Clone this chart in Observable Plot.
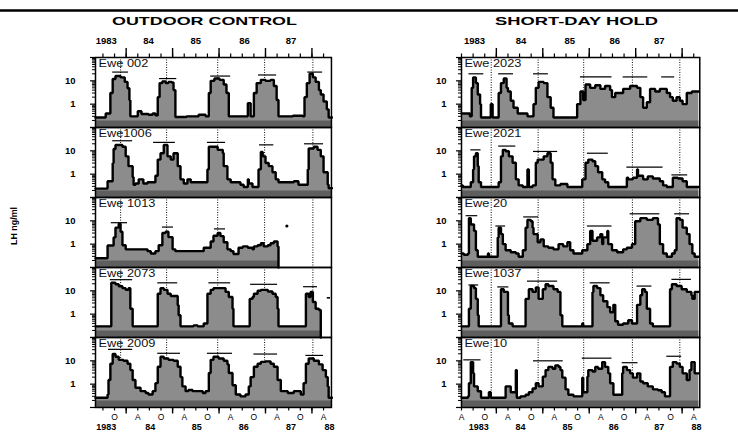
<!DOCTYPE html>
<html><head><meta charset="utf-8">
<script src="https://cdn.jsdelivr.net/npm/d3@7"></script>
<script src="https://cdn.jsdelivr.net/npm/@observablehq/plot@0.6"></script>
<style>
html,body{margin:0;padding:0;background:#fff;}
#wrap{position:relative;width:738px;height:436px;overflow:hidden;background:#fff;font-family:"Liberation Sans",Arial,sans-serif;}
#wrap svg{position:absolute;}
</style></head><body><div id="wrap"></div>
<script>
// ---------- categories ----------
const leftEwes = ["Ewe 002", "Ewe1006", "Ewe 1013", "Ewe 2073", "Ewe 2009"];
const rightEwes = ["Ewe 2023", "Ewe 2021", "Ewe 20", "Ewe 1037", "Ewe 10"];

// ---------- LH series: [decimal year, LH ng/ml] ----------
const lh002 = [[1983.34,0.27],[1983.56,0.4],[1983.66,3],[1983.71,12],[1983.77,16],[1983.88,14],[1983.97,9],[1984.03,4.8],[1984.07,1.5],[1984.09,0.3],[1984.25,0.5],[1984.33,0.38],[1984.48,0.35],[1984.57,0.4],[1984.63,0.33],[1984.68,2],[1984.72,8],[1984.78,9.5],[1984.85,8],[1984.91,9],[1984.98,8.5],[1985.02,4],[1985.06,0.28],[1985.30,0.3],[1985.56,0.35],[1985.71,0.3],[1985.78,3],[1985.82,10],[1985.90,12.5],[1986.01,11],[1986.10,7],[1986.16,3],[1986.21,0.3],[1986.62,1.1],[1986.68,0.3],[1986.75,3],[1986.81,8],[1986.90,11],[1987.00,10],[1987.11,11],[1987.18,6],[1987.24,1.5],[1987.28,0.3],[1987.59,0.32],[1987.80,0.3],[1987.84,2],[1987.89,8],[1987.95,20],[1988.02,14],[1988.08,9],[1988.15,4],[1988.19,2.6],[1988.25,1.3],[1988.32,0.6],[1988.36,0.27],[1988.43,0.27]];
const lh1006 = [[1983.34,0.24],[1983.60,0.5],[1983.71,3],[1983.73,12],[1983.77,17.8],[1983.92,15],[1983.99,5.8],[1984.05,2.2],[1984.14,0.74],[1984.16,0.35],[1984.20,0.4],[1984.27,0.6],[1984.37,0.4],[1984.46,0.45],[1984.63,0.85],[1984.68,4.2],[1984.74,7.9],[1984.81,17.8],[1984.89,5.8],[1984.96,4.2],[1985.02,7.9],[1985.11,2.2],[1985.17,0.6],[1985.24,0.4],[1985.32,0.6],[1985.39,0.45],[1985.75,1.6],[1985.78,15],[1985.97,11],[1986.08,8],[1986.10,2.2],[1986.18,0.6],[1986.25,0.45],[1986.46,0.35],[1986.53,0.28],[1986.62,0.6],[1986.64,0.4],[1986.72,0.28],[1986.85,1.6],[1986.90,9],[1986.94,5.8],[1987.00,3],[1987.07,2.2],[1987.15,1.2],[1987.22,0.6],[1987.28,0.45],[1987.61,0.5],[1987.71,0.35],[1987.91,1.6],[1987.93,12.6],[1988.04,15],[1988.12,11],[1988.19,5.8],[1988.25,1.2],[1988.34,0.35],[1988.36,0.25],[1988.43,0.25]];
const lh1013 = [[1983.34,0.25],[1983.60,0.88],[1983.73,1.95],[1983.77,5.1],[1983.84,7.5],[1983.88,3.4],[1983.92,0.9],[1983.99,0.6],[1984.46,0.5],[1984.53,0.4],[1984.63,0.5],[1984.70,0.9],[1984.78,3],[1984.85,3.4],[1984.91,2],[1985.00,0.6],[1985.06,0.5],[1985.67,0.7],[1985.82,1.3],[1985.88,2.3],[1985.97,3],[1986.03,2.2],[1986.10,1.2],[1986.18,0.6],[1986.25,0.5],[1986.31,0.38],[1986.42,0.7],[1986.51,0.8],[1986.62,0.7],[1986.72,0.6],[1986.75,0.8],[1986.83,0.9],[1986.90,1.1],[1986.96,0.8],[1987.05,0.9],[1987.11,1.1],[1987.18,1.3],[1987.26,0.8],[1987.28,0.1]];
const lh2073 = [[1983.34,0.3],[1983.68,22],[1983.77,19],[1983.84,15.6],[1983.92,13],[1983.99,11],[1984.05,13],[1984.09,1.7],[1984.14,0.3],[1984.68,7.5],[1984.74,13],[1984.81,11],[1984.89,7.5],[1984.96,6],[1985.11,2.4],[1985.13,0.9],[1985.17,0.3],[1985.45,0.33],[1985.54,0.3],[1985.67,0.4],[1985.75,7.5],[1985.82,11],[1985.88,13],[1986.14,9],[1986.21,5.4],[1986.29,1.7],[1986.31,0.3],[1986.66,4.5],[1986.72,5.4],[1986.75,7.5],[1986.83,10],[1986.90,11],[1987.05,9.4],[1987.15,7.5],[1987.22,5.4],[1987.26,1.7],[1987.28,0.3],[1987.87,7.5],[1987.93,5.4],[1987.97,9],[1988.02,3.3],[1988.08,1.7],[1988.15,1.5],[1988.19,0.1]];
const lh2009 = [[1983.34,0.26],[1983.60,0.36],[1983.62,1.5],[1983.66,7.5],[1983.71,19.5],[1983.77,15],[1983.84,11],[1983.94,10],[1984.03,7.5],[1984.09,4],[1984.14,1.5],[1984.20,0.7],[1984.31,0.5],[1984.42,0.42],[1984.48,0.36],[1984.57,0.5],[1984.63,1.1],[1984.68,5.6],[1984.74,15],[1984.81,12.5],[1984.91,11],[1985.02,10],[1985.11,5.6],[1985.17,2],[1985.21,0.8],[1985.28,0.5],[1985.34,0.56],[1985.43,0.5],[1985.65,0.42],[1985.71,0.5],[1985.78,3],[1985.82,11],[1985.88,15],[1985.99,12.5],[1986.10,10],[1986.18,7],[1986.21,3],[1986.29,0.9],[1986.36,0.36],[1986.46,0.3],[1986.57,0.36],[1986.64,0.8],[1986.68,2],[1986.75,5.6],[1986.83,7.5],[1986.90,9],[1987.00,9.5],[1987.11,7.5],[1987.18,5.6],[1987.26,1.5],[1987.33,0.5],[1987.48,0.42],[1987.61,0.5],[1987.76,0.36],[1987.82,1.1],[1987.87,7.5],[1987.93,12.5],[1988.04,10],[1988.15,7],[1988.23,4],[1988.30,2],[1988.34,0.8],[1988.36,0.26],[1988.43,0.26]];

const lh2023 = [[1983.25,0.4],[1983.43,0.3],[1983.47,5],[1983.50,14],[1983.56,8],[1983.60,2.6],[1983.65,1],[1983.67,0.27],[1983.88,1.0],[1983.92,0.27],[1984.05,3],[1984.10,8],[1984.16,12.5],[1984.22,5],[1984.25,3.5],[1984.31,1.4],[1984.37,0.7],[1984.46,0.4],[1984.67,0.3],[1984.80,1],[1984.85,5],[1984.91,9],[1985.02,8],[1985.10,2],[1985.17,0.7],[1985.23,0.27],[1985.74,1],[1985.81,3.5],[1985.87,1.5],[1985.92,7],[1986.02,5],[1986.13,6.5],[1986.24,4.5],[1986.34,6],[1986.45,4],[1986.49,2],[1986.56,3],[1986.73,4.5],[1986.88,6],[1987.03,5],[1987.10,2],[1987.16,0.7],[1987.24,1.2],[1987.31,4.5],[1987.42,3.5],[1987.52,4.5],[1987.67,3],[1987.74,2],[1987.80,1.4],[1987.88,2],[1987.95,1.4],[1988.01,1.0],[1988.10,3],[1988.21,3.5],[1988.36,3.5]];
const lh2021 = [[1983.25,0.33],[1983.28,0.28],[1983.45,0.45],[1983.50,1.6],[1983.52,5.8],[1983.56,7.9],[1983.60,2.2],[1983.62,0.45],[1983.67,0.28],[1984.05,0.45],[1984.10,5.8],[1984.14,11],[1984.20,9.6],[1984.27,5.8],[1984.35,3.1],[1984.42,0.6],[1984.48,0.33],[1984.57,0.28],[1984.67,1.6],[1984.70,0.28],[1984.78,0.33],[1984.85,3.1],[1984.89,4.2],[1985.02,5.8],[1985.10,7.9],[1985.17,3.1],[1985.21,0.6],[1985.27,0.33],[1985.38,0.38],[1985.53,0.28],[1985.85,0.6],[1985.92,3.1],[1985.98,4.2],[1986.07,3.6],[1986.13,2.2],[1986.19,1.2],[1986.28,0.6],[1986.34,0.45],[1986.41,0.28],[1986.81,0.7],[1986.84,0.6],[1986.94,0.7],[1987.03,1.6],[1987.05,0.85],[1987.16,0.6],[1987.26,0.8],[1987.37,0.65],[1987.52,0.5],[1987.59,0.33],[1987.67,0.28],[1987.80,0.7],[1987.91,0.65],[1988.01,0.5],[1988.10,0.28],[1988.36,0.28]];
const lh20 = [[1983.25,0.4],[1983.30,0.35],[1983.39,0.4],[1983.41,13],[1983.45,7],[1983.52,3.7],[1983.56,0.55],[1983.60,0.29],[1983.82,0.4],[1983.84,0.29],[1984.03,1.95],[1984.05,5.1],[1984.10,2.7],[1984.14,1.0],[1984.20,0.55],[1984.31,0.45],[1984.42,0.4],[1984.48,0.29],[1984.57,0.55],[1984.63,5.1],[1984.67,11],[1984.74,9.6],[1984.78,5.1],[1984.80,2.7],[1984.89,1.2],[1984.95,1.6],[1985.02,0.8],[1985.12,0.7],[1985.23,0.6],[1985.34,1.0],[1985.44,0.8],[1985.53,1.2],[1985.59,0.55],[1985.66,0.4],[1985.85,0.55],[1985.96,1.0],[1986.02,3.7],[1986.07,1.4],[1986.17,1.95],[1986.24,2.7],[1986.28,1.0],[1986.30,1.95],[1986.39,3.7],[1986.41,1.0],[1986.49,0.55],[1986.60,0.45],[1986.73,0.6],[1986.81,0.7],[1986.92,1.0],[1986.99,9.6],[1987.10,13],[1987.24,11],[1987.37,13],[1987.48,7],[1987.52,1.0],[1987.59,0.4],[1987.67,0.29],[1987.78,0.4],[1987.84,0.55],[1987.88,13],[1987.95,11],[1988.01,5.1],[1988.10,2.7],[1988.16,1.0],[1988.22,0.4],[1988.27,0.29],[1988.36,0.29]];
const lh1037 = [[1983.25,0.3],[1983.41,1.7],[1983.45,16],[1983.52,13],[1983.56,4.5],[1983.60,0.9],[1983.62,0.3],[1984.10,11.7],[1984.16,9],[1984.25,0.9],[1984.27,0.4],[1984.35,0.3],[1984.63,4.5],[1984.70,11.7],[1984.78,9],[1984.85,14],[1984.91,4.5],[1985.00,11.7],[1985.06,19],[1985.12,16],[1985.23,11.7],[1985.32,9],[1985.38,0.9],[1985.42,0.3],[1985.85,0.4],[1985.87,0.3],[1986.07,9],[1986.09,16],[1986.17,13],[1986.24,6.5],[1986.30,3.6],[1986.39,2],[1986.45,1.2],[1986.52,2.5],[1986.56,0.5],[1986.62,0.35],[1986.73,0.4],[1986.84,0.55],[1986.92,0.4],[1987.03,2.5],[1987.10,6.5],[1987.14,11.7],[1987.20,9],[1987.24,1.7],[1987.31,0.4],[1987.37,0.3],[1987.74,11.7],[1987.78,19],[1987.88,16],[1987.99,11.7],[1988.10,9],[1988.20,6.5],[1988.22,4.5],[1988.27,9],[1988.36,9]];
const lh10 = [[1983.25,0.26],[1983.39,0.3],[1983.41,1.1],[1983.45,8.8],[1983.50,2.9],[1983.52,0.8],[1983.60,0.5],[1983.67,0.26],[1983.84,0.45],[1983.88,0.26],[1984.20,0.8],[1984.31,0.45],[1984.42,4],[1984.44,0.26],[1984.52,0.3],[1984.63,0.35],[1984.70,0.45],[1984.78,0.65],[1984.85,1.1],[1984.91,0.8],[1985.00,2.1],[1985.06,4],[1985.12,5.5],[1985.21,4.6],[1985.27,6.4],[1985.34,5.5],[1985.38,4],[1985.42,1.9],[1985.49,0.6],[1985.55,0.35],[1985.66,0.3],[1985.85,1.9],[1985.87,0.45],[1985.96,2.1],[1985.98,4],[1986.07,3.5],[1986.13,5.5],[1986.19,4.6],[1986.28,8.8],[1986.34,5.5],[1986.41,2.9],[1986.45,1.1],[1986.52,0.35],[1986.71,2.9],[1986.73,5.5],[1986.81,4],[1986.88,2.9],[1986.94,1.9],[1987.03,2.9],[1987.10,1.3],[1987.16,1.1],[1987.26,0.8],[1987.37,0.6],[1987.48,0.55],[1987.56,0.45],[1987.63,0.3],[1987.74,5.5],[1987.80,8.8],[1987.88,7.6],[1987.95,5.5],[1988.01,2.9],[1988.10,1.5],[1988.16,4],[1988.20,8.8],[1988.27,2.9],[1988.36,2.9]];

// ---------- horizontal bars above each season: [start, end, level] ----------
const bars002 = [[1983.71,1984.05,23.7],[1984.72,1985.09,12.5],[1985.82,1986.25,16],[1986.85,1987.24,17.8],[1987.91,1988.23,23.7]];
const bars1006 = [[1983.71,1984.14,27],[1984.59,1985.06,23],[1985.75,1986.14,23],[1986.87,1987.18,18],[1987.84,1988.25,20]];
const bars1013 = [[1983.68,1984.03,8.3],[1984.78,1985.02,5.4],[1985.90,1986.14,4.5]];
const bars2073 = [[1983.66,1984.14,30],[1984.68,1985.11,22],[1985.78,1986.25,22],[1986.68,1987.26,19],[1987.82,1988.12,15]];
const bars2009 = [[1983.62,1984.14,31],[1984.68,1985.17,21],[1985.75,1986.29,21],[1986.75,1987.26,19.5],[1987.87,1988.25,17]];
const bars2023 = [[1983.41,1983.73,20],[1984.05,1984.37,20],[1984.80,1985.12,20],[1985.81,1986.49,14.7],[1986.73,1987.26,14.7],[1987.56,1987.84,14.7]];
const bars2021 = [[1983.45,1983.67,11],[1984.05,1984.42,16],[1984.80,1985.32,9.4],[1985.96,1986.41,7.9],[1986.81,1987.59,2],[1987.78,1988.12,0.93]];
const bars20 = [[1983.35,1983.60,16.6],[1983.99,1984.20,6],[1984.59,1984.91,14.7],[1985.96,1986.49,6],[1986.88,1987.52,20],[1987.84,1988.16,20]];
const bars1037 = [[1983.41,1983.62,17.8],[1984.03,1984.27,14.7],[1984.67,1985.32,26],[1986.02,1986.45,22],[1987.03,1987.35,16],[1987.78,1988.20,31]];
const bars10 = [[1983.30,1983.67,11],[1984.80,1985.44,10],[1985.85,1986.49,13],[1986.71,1987.05,8.3],[1987.67,1987.99,15.7]];

// isolated points after series end
const dots1013 = [[1987.46, 6]];
const dash2073 = [[1988.33, 1988.40, 5]];

// ---------- dotted reference dates (around winter solstice) ----------
const leftSolstices = [1983.88, 1984.87, 1985.97, 1986.98, 1988.02];
const rightSolstices = [1983.89, 1984.90, 1985.88, 1986.93, 1987.95];

// ---------- tick values ----------
const yearTicks = [1984, 1985, 1986, 1987, 1988];
const quarterTicks = [1983.25,1983.5,1983.75,1984,1984.25,1984.5,1984.75,1985,1985.25,1985.5,1985.75,1986,1986.25,1986.5,1986.75,1987,1987.25,1987.5,1987.75,1988,1988.25];
const octAprLeft = [1983.75,1984.25,1984.75,1985.25,1985.75,1986.25,1986.75,1987.25,1987.75,1988.25];
const octAprRight = [1983.25,1983.75,1984.25,1984.75,1985.25,1985.75,1986.25,1986.75,1987.25,1987.75,1988.25];
const topYearsLeft = [1983.57, 1984.48, 1985.5, 1986.55, 1987.55];
const topYearsRight = [1983.53, 1984.53, 1985.58, 1986.55, 1987.51];
const bottomYearsLeft = [1983.57, 1984.52, 1985.52, 1986.53, 1987.55, 1988.38];
const bottomYearsRight = [1983.62, 1984.52, 1985.53, 1986.53, 1987.51, 1988.31];
const yMajor = [0.1, 1, 10, 100];
const yMinor = [0.2,0.3,0.4,0.5,0.6,0.7,0.8,0.9,2,3,4,5,6,7,8,9,20,30,40,50,60,70,80,90];
const yLabeled = [1, 10];

const yearFmt = d => Math.floor(d) === 1983 ? "1983" : String(Math.floor(d)).slice(2);
const monthFmt = d => Math.abs((d % 1) - 0.75) < 0.01 ? "O" : "A";

const PANEL_H = 70.6, TOP = 55, MT = 32, MB = 28, ML = 45, MR = 8;

function column(ewes, series, bars, solstices, xDomain, monthTicks, topYears, bottomYears, yPad, extras) {
  const rows = ewes.flatMap((e, i) => series[i].map(([t, v]) => ({ewe: e, t, v})));
  const barRows = ewes.flatMap((e, i) => bars[i].map(([t1, t2, v]) => ({ewe: e, t1, t2, v})));
  const inDom = t => t >= xDomain[0] - 1e-6 && t <= xDomain[1] + 1e-6;
  const plotW = (xDomain[1] - xDomain[0]) * 46.45;
  return Plot.plot({
    width: ML + plotW + MR,
    height: MT + MB + PANEL_H * ewes.length,
    marginLeft: ML, marginRight: MR, marginTop: MT, marginBottom: MB,
    style: {fontFamily: '"Liberation Sans", Arial, sans-serif', color: "black", background: "transparent", overflow: "visible"},
    x: {domain: xDomain},
    y: {type: "log", domain: [0.1, 100]},
    fy: {domain: ewes, padding: 0, axis: null, label: null},
    marks: [
      Plot.ruleX(solstices, {stroke: "#222", strokeWidth: 1.1, strokeDasharray: "1,1.5"}),
      Plot.areaY(rows, {x: "t", y1: 0.1, y2: "v", fy: "ewe", curve: "step-after", fill: "#8c8c8c"}),
      Plot.areaY(rows, {x: "t", y1: 0.1, y2: d => Math.min(d.v, 0.19), fy: "ewe", curve: "step-after", fill: "#5e5e5e"}),
      Plot.lineY(rows, {x: "t", y: "v", fy: "ewe", curve: "step-after", stroke: "black", strokeWidth: 2.4, strokeLinejoin: "miter"}),
      Plot.ruleY(barRows, {y: "v", x1: "t1", x2: "t2", fy: "ewe", stroke: "black", strokeWidth: 1.2}),
      ...extras,
      Plot.text(ewes, {fy: d => d, text: d => d, frameAnchor: "top-left", dx: 3, dy: 2.5, fontSize: 10, fill: "#111"}),
      Plot.frame({stroke: "black", strokeWidth: 1.5}),
      // y axis
      Plot.axisY(yMinor, {tickSize: 3, tickFormat: () => "", label: null, strokeWidth: 1}),
      Plot.axisY(yMajor, {tickSize: 5, tickFormat: () => "", label: null, strokeWidth: 1.2}),
      Plot.axisY(yLabeled, {tickSize: 0, tickPadding: yPad, tickFormat: d => String(d), fontWeight: "bold", fontSize: 9.5, label: null}),
      // top axis
      Plot.axisX(quarterTicks.filter(inDom), {anchor: "top", tickSize: 4.5, tickFormat: () => "", label: null, strokeWidth: 1.2}),
      Plot.axisX(yearTicks.filter(inDom), {anchor: "top", tickSize: 10, tickFormat: () => "", label: null, strokeWidth: 1.4}),
      Plot.axisX(topYears, {anchor: "top", tickSize: 0, tickPadding: 13.5, tickFormat: yearFmt, fontWeight: "bold", fontSize: 9.5, label: null}),
      // bottom axis
      Plot.axisX(quarterTicks.filter(inDom), {anchor: "bottom", tickSize: 3.5, tickFormat: () => "", label: null, strokeWidth: 1.2}),
      Plot.axisX(yearTicks.filter(inDom), {anchor: "bottom", tickSize: 6.5, tickFormat: () => "", label: null, strokeWidth: 1.4}),
      Plot.axisX(monthTicks.filter(inDom), {anchor: "bottom", tickSize: 0, tickPadding: 6.5, tickFormat: monthFmt, fontSize: 8.5, label: null}),
      Plot.axisX(bottomYears, {anchor: "bottom", tickSize: 0, tickPadding: 16, tickFormat: yearFmt, fontWeight: "bold", fontSize: 9, label: null})
    ]
  });
}

// widen the panel labels like the scanned lettering
function widenLabels(svg) {
  d3.select(svg).selectAll('g[aria-label="text"] text').each(function () {
    const w = this.getComputedTextLength();
    if (w > 0) d3.select(this).attr("textLength", w * 1.28).attr("lengthAdjust", "spacingAndGlyphs");
  });
}

const wrap = document.getElementById("wrap");

const leftExtras = [
  Plot.dot(dots1013.map(([t, v]) => ({ewe: "Ewe 1013", t, v})), {x: "t", y: "v", fy: "ewe", r: 1.6, fill: "black", stroke: "none"}),
  Plot.ruleY(dash2073.map(([t1, t2, v]) => ({ewe: "Ewe 2073", t1, t2, v})), {y: "v", x1: "t1", x2: "t2", fy: "ewe", stroke: "black", strokeWidth: 1.6})
];

const leftSvg = column(leftEwes, [lh002, lh1006, lh1013, lh2073, lh2009],
  [bars002, bars1006, bars1013, bars2073, bars2009], leftSolstices, [1983.34, 1988.42],
  octAprLeft, topYearsLeft, bottomYearsLeft, 20, leftExtras);
leftSvg.style.left = (95 - ML) + "px";
leftSvg.style.top = (TOP - MT) + "px";
wrap.appendChild(leftSvg);
widenLabels(leftSvg);

const rightSvg = column(rightEwes, [lh2023, lh2021, lh20, lh1037, lh10],
  [bars2023, bars2021, bars20, bars1037, bars10], rightSolstices, [1983.25, 1988.38],
  octAprRight, topYearsRight, bottomYearsRight, 15, []);
rightSvg.style.left = (460.5 - ML) + "px";
rightSvg.style.top = (TOP - MT) + "px";
wrap.appendChild(rightSvg);
widenLabels(rightSvg);

// ---------- titles, rule, y label ----------
const over = d3.select(wrap).append("svg")
  .attr("width", 738).attr("height", 436)
  .style("left", "0px").style("top", "0px")
  .style("font-family", '"Liberation Sans", Arial, sans-serif');
over.append("line").attr("x1", 0).attr("x2", 738).attr("y1", 10.5).attr("y2", 10.5)
  .attr("stroke", "black").attr("stroke-width", 2.6);
over.append("text").attr("x", 112).attr("y", 24.5).attr("font-size", 10.5).attr("font-weight", "bold")
  .attr("textLength", 185).attr("lengthAdjust", "spacingAndGlyphs").text("OUTDOOR CONTROL");
over.append("text").attr("x", 495).attr("y", 24.5).attr("font-size", 10.5).attr("font-weight", "bold")
  .attr("textLength", 163).attr("lengthAdjust", "spacingAndGlyphs").text("SHORT-DAY HOLD");
over.append("text").attr("transform", "translate(17,226) rotate(-90)")
  .attr("text-anchor", "middle").attr("font-size", 9).attr("font-weight", "bold")
  .attr("textLength", 38).attr("lengthAdjust", "spacingAndGlyphs").text("LH ng/ml");
</script></body></html>
